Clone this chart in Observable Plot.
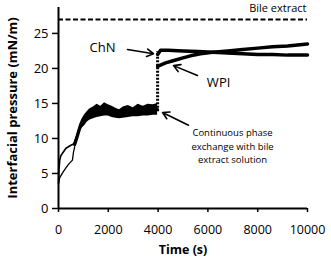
<!DOCTYPE html>
<html>
<head>
<meta charset="utf-8">
<script src="https://cdn.jsdelivr.net/npm/d3@7"></script>
<script src="https://cdn.jsdelivr.net/npm/@observablehq/plot@0.6"></script>
<style>
  html, body { margin: 0; padding: 0; background: #fff; }
  #chart svg { display: block; }
  g[aria-label="x-axis label"] text, g[aria-label="y-axis label"] text { font-weight: bold; }
</style>
</head>
<body>
<div id="chart"></div>
<script>
// Early thin traces
const earlyTimeA = [0, 20, 50, 90, 160, 300, 480, 600, 700];
const earlyA     = [3.6, 5.6, 6.9, 7.5, 7.9, 8.6, 9.0, 9.2, 10.0];
const earlyTimeB = [0, 50, 200, 400, 560, 600, 650];
const earlyB     = [3.6, 4.4, 5.3, 6.3, 6.9, 8.0, 8.8];
// Noisy band before exchange
const bandTime = [650, 750, 850, 950, 1050, 1150, 1250, 1400, 1550, 1700, 1850, 2000, 2150, 2300, 2450, 2600, 2800, 3000, 3200, 3400, 3600, 3800, 3980];
const bandLow  = [8.6, 9.6, 10.8, 11.5, 11.8, 12.3, 12.6, 12.8, 13.0, 13.1, 13.2, 13.2, 13.0, 12.9, 12.8, 12.9, 13.0, 13.1, 13.1, 13.2, 13.2, 13.3, 13.3];
const bandHigh = [9.6, 10.8, 12.0, 12.8, 13.4, 13.8, 14.2, 14.5, 14.9, 14.6, 15.1, 14.8, 14.6, 14.3, 14.1, 14.5, 14.7, 14.4, 14.9, 14.6, 14.9, 14.8, 15.0];
// Jump at exchange
const jumpTime = [3980];
const jumpLow  = [13.8];
const jumpHigh = [22.4];
// After exchange
const chnTime = [3980, 4100, 4400, 5000, 5600, 6200, 6800, 7400, 8000, 8600, 9200, 10000];
const chn     = [22.0, 22.6, 22.6, 22.5, 22.4, 22.3, 22.2, 22.1, 22.0, 22.0, 21.9, 21.9];
const wpiTime = [3980, 4300, 4600, 5000, 5300, 5700, 6200, 6800, 7400, 8000, 8600, 9200, 10000];
const wpi     = [20.3, 20.8, 21.1, 21.5, 21.8, 22.1, 22.3, 22.5, 22.7, 22.9, 23.1, 23.2, 23.5];
// Bile extract reference
const bileLevel = [27];
// Ticks
const xTicks = [0, 2000, 4000, 6000, 8000, 10000];
const yTicks = [0, 5, 10, 15, 20, 25];
// Annotations (data units)
const labelText = ["ChN", "WPI"];
const labelX = [1770, 6430];
const labelY = [23.0, 17.9];
const noteText = "Continuous phase\nexchange with bile\nextract solution";
const noteX = 6990;
const noteY = 9.0;
const arrowX1 = [2770, 5580, 5220];
const arrowY1 = [22.7, 19.0, 11.9];
const arrowX2 = [3815, 4620, 4180];
const arrowY2 = [22.1, 20.4, 13.7];

const zip = (xs, ys) => xs.map((x, i) => ({x, y: ys[i]}));
const band = bandTime.map((t, i) => ({t, lo: bandLow[i], hi: bandHigh[i]}));
const jumps = jumpTime.map((t, i) => ({t, lo: jumpLow[i], hi: jumpHigh[i]}));
const labels = labelText.map((s, i) => ({s, x: labelX[i], y: labelY[i]}));
const notes = [{s: noteText, x: noteX, y: noteY}];
const arrows = arrowX1.map((x1, i) => ({x1, y1: arrowY1[i], x2: arrowX2[i], y2: arrowY2[i]}));

const font = "'Open Sans', sans-serif";
const chart = Plot.plot({
  width: 331,
  height: 258,
  marginLeft: 58,
  marginRight: 24,
  marginTop: 7,
  marginBottom: 50,
  style: {fontFamily: font, fontSize: "13px", color: "#000", background: "#fff"},
  x: {domain: [0, 10000]},
  y: {domain: [0, 28.7]},
  marks: [
    Plot.axisX({ticks: xTicks, tickFormat: d => String(d), tickSize: 4, tickPadding: 13, fontSize: 12.5,
      label: "Time (s)", labelAnchor: "center", labelArrow: "none", labelOffset: 45, stroke: "#000", strokeWidth: 1.5}),
    Plot.axisY({ticks: yTicks, tickSize: 6, tickPadding: 4, fontSize: 13,
      label: "Interfacial pressure (mN/m)", labelAnchor: "center", labelArrow: "none", labelOffset: 51, stroke: "#000", strokeWidth: 1.5}),
    Plot.ruleY(bileLevel, {stroke: "#000", strokeWidth: 2, strokeDasharray: "5,2.5"}),
    Plot.text(["Bile extract"], {frameAnchor: "top-right", dx: -1, dy: -3, fontSize: 11, fill: "#000"}),
    Plot.line(zip(earlyTimeA, earlyA), {x: "x", y: "y", stroke: "#000", strokeWidth: 1.6}),
    Plot.line(zip(earlyTimeB, earlyB), {x: "x", y: "y", stroke: "#000", strokeWidth: 1.3}),
    Plot.areaY(band, {x: "t", y1: "lo", y2: "hi", fill: "#000", curve: "linear"}),
    Plot.line(band, {x: "t", y: d => (d.lo + d.hi) / 2, stroke: "#000", strokeWidth: 3}),
    Plot.ruleX(jumps, {x: "t", y1: "lo", y2: "hi", stroke: "#000", strokeWidth: 3, strokeDasharray: "2,1.5"}),
    Plot.line(zip(chnTime, chn), {x: "x", y: "y", stroke: "#000", strokeWidth: 3.5}),
    Plot.line(zip(wpiTime, wpi), {x: "x", y: "y", stroke: "#000", strokeWidth: 3.5}),
    Plot.arrow(arrows, {x1: "x1", y1: "y1", x2: "x2", y2: "y2", stroke: "#000", strokeWidth: 1.6, headLength: 7}),
    Plot.text(labels, {x: "x", y: "y", text: "s", fontSize: 13, fill: "#000"}),
    Plot.text(notes, {x: "x", y: "y", text: "s", fontSize: 9.5, lineHeight: 1.4, fill: "#000"}),
    Plot.ruleY([0], {stroke: "#000", strokeWidth: 2}),
    Plot.ruleX([0], {stroke: "#000", strokeWidth: 2})
  ]
});
document.getElementById("chart").appendChild(chart);
</script>
</body>
</html>
